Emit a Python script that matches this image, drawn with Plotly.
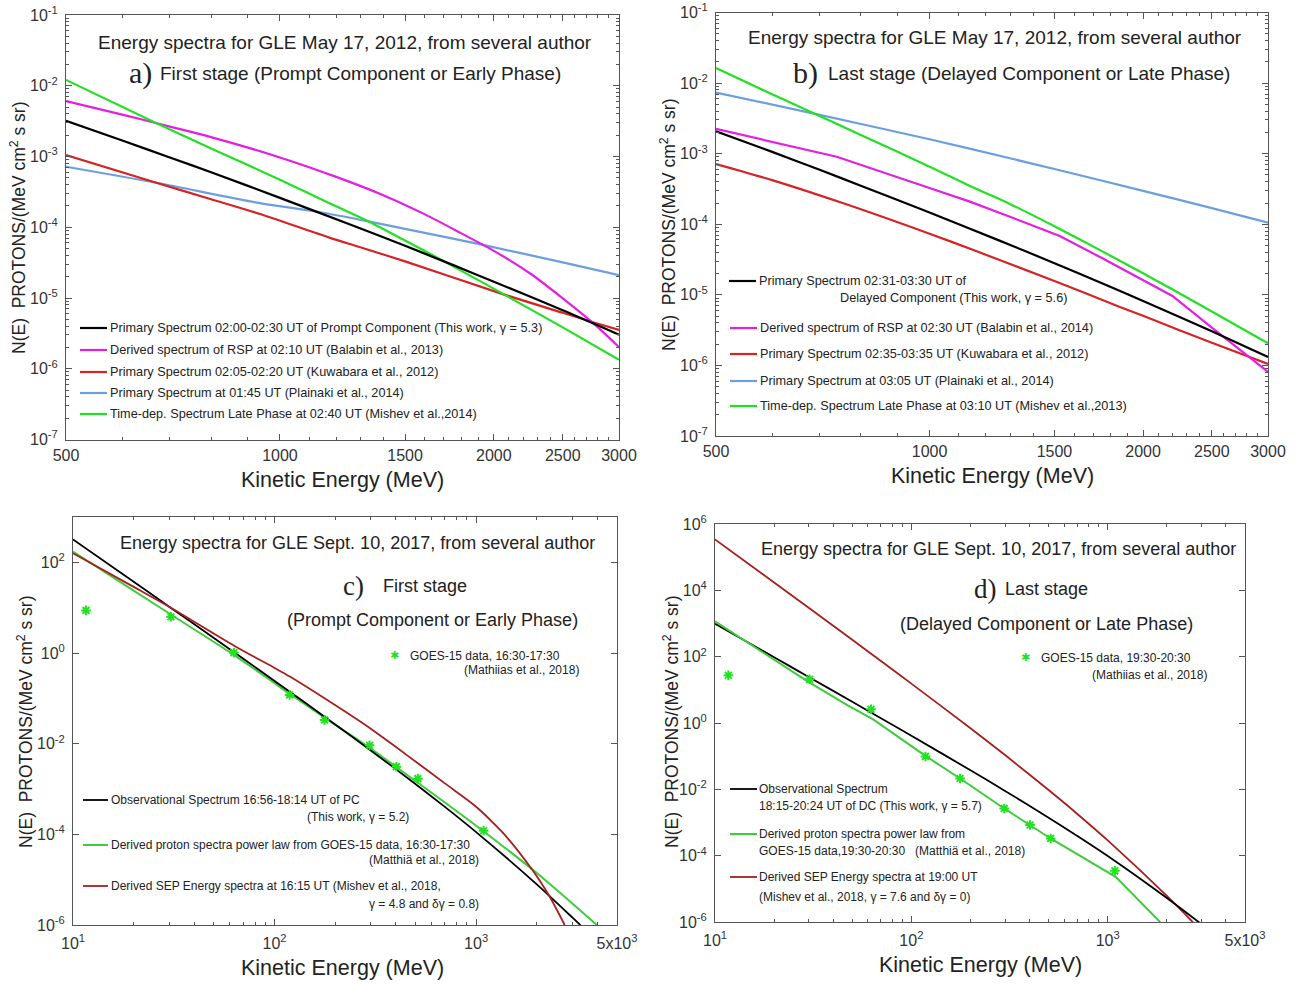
import plotly.graph_objects as go

W, H = 1301, 984
SANS = "Liberation Sans, Arial, sans-serif"
NARROW = "Liberation Sans, Arial, sans-serif"
SERIF = "Liberation Serif, Times New Roman, serif"

# ---------------- data: panel a (GLE May 17 2012, first stage) ----------------
E_a_black = [500, 600, 700, 800, 1000, 1250, 1500, 1750, 2000, 2500, 3000]
N_a_black = [3.2e-3, 1.68e-3, 9.7e-4, 6.0e-4, 2.6e-4, 1.11e-4, 5.47e-5, 2.94e-5, 1.70e-5, 6.7e-6, 3.03e-6]
E_a_mag = [500, 600, 700, 800, 1000, 1200, 1400, 1600, 1800, 2000, 2250, 2500, 2750, 3000]
N_a_mag = [6.07e-3, 3.91e-3, 2.65e-3, 1.88e-3, 9.7e-4, 5.15e-4, 2.82e-4, 1.52e-4, 8.2e-5, 4.64e-5, 2.22e-5, 9.9e-6, 4.55e-6, 2.02e-6]
E_a_red = [500, 670, 800, 937, 1174, 1294, 1500, 2034, 2500, 2780, 3000]
N_a_red = [1.05e-3, 4.25e-4, 2.49e-4, 1.54e-4, 7.14e-5, 5.26e-5, 3.29e-5, 1.18e-5, 6.18e-6, 4.44e-6, 3.53e-6]
E_a_blue = [500, 670, 937, 1125, 1300, 1500, 1939, 2500, 3000]
N_a_blue = [7.17e-4, 4.25e-4, 2.19e-4, 1.67e-4, 1.27e-4, 9.5e-5, 5.58e-5, 3.19e-5, 2.11e-5]
E_a_green = [500, 667, 800, 1000, 1174, 1329, 1500, 1675, 2034, 2500, 3000]
N_a_green = [1.21e-2, 3.03e-3, 1.30e-3, 4.7e-4, 2.19e-4, 1.23e-4, 6.5e-5, 3.6e-5, 1.23e-5, 3.84e-6, 1.34e-6]

# ---------------- data: panel b (GLE May 17 2012, last stage) ----------------
E_b_black = [500, 600, 700, 800, 1000, 1250, 1500, 1750, 2000, 2500, 3000]
N_b_black = [2.08e-3, 1.06e-3, 5.9e-4, 3.52e-4, 1.47e-4, 5.96e-5, 2.81e-5, 1.46e-5, 8.2e-6, 3.04e-6, 1.32e-6]
E_b_mag = [500, 600, 740, 1000, 1140, 1298, 1526, 1750, 2023, 2200, 2500, 2650, 3000]
N_b_mag = [2.24e-3, 1.47e-3, 9.05e-4, 3.27e-4, 2.09e-4, 1.275e-4, 6.8e-5, 3.32e-5, 1.535e-5, 9.63e-6, 3.44e-6, 2.16e-6, 8.1e-7]
E_b_red = [500, 600, 756, 1000, 1153, 1500, 1855, 2000, 2500, 3000]
N_b_red = [7.14e-4, 4.22e-4, 1.98e-4, 7.34e-5, 4.31e-5, 1.57e-5, 6.74e-6, 5.04e-6, 2.09e-6, 1.05e-6]
E_b_blue = [500, 690, 1000, 1298, 1500, 2000, 2500, 3000]
N_b_blue = [7.33e-3, 3.66e-3, 1.6e-3, 8.6e-4, 6.06e-4, 2.97e-4, 1.69e-4, 1.05e-4]
E_b_green = [500, 600, 690, 800, 1000, 1140, 1298, 1500, 1750, 2000, 2182, 2500, 3000]
N_b_green = [1.63e-2, 6.94e-3, 3.66e-3, 1.84e-3, 6.55e-4, 3.49e-4, 1.94e-4, 9.35e-5, 4.16e-5, 2.02e-5, 1.25e-5, 5.8e-6, 2.06e-6]

# ---------------- data: panel c (GLE Sept 10 2017, first stage) ----------------
E_c_goes = [11.6, 30.6, 62.8, 118.8, 177, 296, 402, 514, 1089]
N_c_goes = [8.7, 6.3, 1.02, 0.119, 0.0333, 9.2e-3, 3.1e-3, 1.69e-3, 1.2e-4]
E_c_black = [10, 20, 30, 50, 70, 100, 200, 300, 500, 700, 1000, 2000, 3000, 3300]
N_c_black = [321, 37.3, 10.5, 2.14, 0.745, 0.242, 2.66e-2, 7.1e-3, 1.29e-3, 4.03e-4, 1.12e-4, 7.9e-6, 1.47e-6, 9.8e-7]
E_c_green = [10, 20, 31, 63, 100, 119, 200, 300, 500, 1000, 2000, 3970]
N_c_green = [172, 23.8, 6.8, 0.9, 0.216, 0.125, 0.026, 7.8e-3, 1.5e-3, 1.55e-4, 1.4e-5, 1.0e-6]
E_c_red = [10, 20, 30, 63, 100, 119, 177, 300, 402, 514, 700, 1000, 1327, 1500, 1840, 2000, 2350, 2750]
N_c_red = [158, 28.8, 10.5, 1.45, 0.468, 0.302, 0.1, 0.0214, 8.3e-3, 3.7e-3, 1.33e-3, 4.07e-4, 1.2e-4, 6.46e-5, 2.0e-5, 1.19e-5, 3.8e-6, 1.0e-6]

# ---------------- data: panel d (GLE Sept 10 2017, last stage) ----------------
E_d_goes = [11.7, 30.3, 62.3, 118, 177, 297, 402, 512, 1087]
N_d_goes = [27.5, 20.8, 2.6, 0.098, 0.0212, 2.65e-3, 8.4e-4, 3.3e-4, 3.5e-5]
E_d_black = [10, 20, 30, 50, 70, 100, 200, 300, 500, 700, 1000, 2000, 3000]
N_d_black = [986, 96, 24.5, 4.37, 1.39, 0.412, 0.0376, 8.97e-3, 1.4e-3, 3.94e-4, 9.8e-5, 5.3e-6, 8.6e-7]
E_d_green = [10, 29.9, 47.4, 63.6, 118, 177, 297, 402, 512, 1096, 1849]
N_d_green = [1160, 17.3, 3.4, 1.3, 0.102, 0.0212, 2.65e-3, 8.4e-4, 3.3e-4, 2.3e-5, 1.0e-6]
E_d_red = [10, 20, 30, 50, 70, 100, 200, 300, 500, 700, 1000, 2000, 2750]
N_d_red = [3.44e5, 1.73e4, 2980, 323, 74, 15.4, 0.695, 0.108, 9.5e-3, 1.81e-3, 2.88e-4, 6.1e-6, 9.1e-7]

# tick labels
ab_xticks = [500, 1000, 1500, 2000, 2500, 3000]
ab_yexp = [-1, -2, -3, -4, -5, -6, -7]
cd_xticks = [10, 100, 1000, 5000]
cd_xtext = ["10<sup>1</sup>", "10<sup>2</sup>", "10<sup>3</sup>", "5x10<sup>3</sup>"]
c_yexp = [2, 0, -2, -4, -6]
d_yexp = [6, 4, 2, 0, -2, -4, -6]

# colours
BLACK = "#000000"
MAG = "#e41fe4"
RED = "#d42424"
BLUE = "#6c9ee0"
GREEN = "#22e022"
GREEN2 = "#3ccc3c"
DRED = "#a4201e"

fig = go.Figure()

def line(E, N, color, ax, width=2.2, shape="spline"):
    fig.add_trace(go.Scatter(x=E, y=N, mode="lines", xaxis="x" + ax, yaxis="y" + ax,
                             line=dict(color=color, width=width, shape=shape, smoothing=0.8),
                             showlegend=False, hoverinfo="skip"))

def pts(E, N, color, ax):
    fig.add_trace(go.Scatter(x=E, y=N, mode="markers", xaxis="x" + ax, yaxis="y" + ax,
                             marker=dict(symbol="asterisk-open", size=8, color=color,
                                         line=dict(color=color, width=2.0)),
                             showlegend=False, hoverinfo="skip"))

# panel a
line(E_a_blue, N_a_blue, BLUE, "")
line(E_a_red, N_a_red, RED, "")
line(E_a_mag, N_a_mag, MAG, "")
line(E_a_green, N_a_green, GREEN, "")
line(E_a_black, N_a_black, BLACK, "")
# panel b
line(E_b_blue, N_b_blue, BLUE, "2")
line(E_b_red, N_b_red, RED, "2")
line(E_b_mag, N_b_mag, MAG, "2", shape="linear")
line(E_b_green, N_b_green, GREEN, "2")
line(E_b_black, N_b_black, BLACK, "2")
# panel c
line(E_c_green, N_c_green, GREEN2, "3", width=2.0)
line(E_c_black, N_c_black, BLACK, "3", width=1.8)
line(E_c_red, N_c_red, DRED, "3", width=1.8)
pts(E_c_goes, N_c_goes, GREEN, "3")
# panel d
line(E_d_red, N_d_red, DRED, "4", width=1.8)
line(E_d_black, N_d_black, BLACK, "4", width=1.8)
line(E_d_green, N_d_green, GREEN2, "4", width=2.0, shape="linear")
pts(E_d_goes, N_d_goes, GREEN, "4")

def PX(x):
    return x / W

def PY(y):
    return 1 - y / H

def dom(x0, x1, y0, y1):
    return [PX(x0), PX(x1)], [PY(y1), PY(y0)]

TICKFONT = dict(family=SANS, size=16, color="#333")
AXLINE = dict(showline=True, linecolor="#555", linewidth=1, mirror="ticks", ticks="inside",
              tickcolor="#555", showgrid=False, zeroline=False, tickfont=TICKFONT,
              automargin=False, ticklabeloverflow="allow")

def exptext(e):
    return "10<sup>%d</sup>" % e

# panel geometry (window pixels)
geo = {
    "": (66, 619, 15, 439.5),
    "2": (716, 1268, 12.5, 436),
    "3": (73, 617, 517, 925),
    "4": (715, 1245, 524, 922),
}
layout_axes = {}
for ax, (x0, x1, y0, y1) in geo.items():
    xd, yd = dom(x0, x1, y0, y1)
    key = ax if ax else ""
    ya = dict(AXLINE, type="log", domain=yd, anchor="x" + key, ticklen=6, ticklabelstandoff=4)
    if ax in ("", "2"):
        xa = dict(AXLINE, type="log", domain=xd, anchor="y" + key, ticklen=6, ticklabelstandoff=1)
        xa.update(range=[2.69897, 3.47712], tickmode="array", tickvals=ab_xticks,
                  ticktext=[str(v) for v in ab_xticks],
                  minor=dict(ticks="inside", ticklen=3, dtick="L100", tickcolor="#555", showgrid=False))
        ya.update(range=[-7, -1], tickmode="array", tickvals=[10.0 ** e for e in ab_yexp],
                  ticktext=[exptext(e) for e in ab_yexp],
                  minor=dict(ticks="inside", ticklen=3, dtick="D1", tickcolor="#555", showgrid=False))
    else:
        xa = dict(AXLINE, type="log", domain=xd, anchor="y" + key, ticklen=6, ticklabelstandoff=4)
        yexp = c_yexp if ax == "3" else d_yexp
        xa.update(range=[1, 3.69897], tickmode="array", tickvals=cd_xticks, ticktext=cd_xtext,
                  minor=dict(ticks="inside", ticklen=3, dtick="D1", tickcolor="#555", showgrid=False))
        ya.update(range=[-6, 3] if ax == "3" else [-6, 6], tickmode="array",
                  tickvals=[10.0 ** e for e in yexp], ticktext=[exptext(e) for e in yexp])
    layout_axes["xaxis" + key] = xa
    layout_axes["yaxis" + key] = ya

annotations = []
shapes = []

def ann(text, x, y, size, xanchor="center", family=SANS, angle=0, color="#222"):
    annotations.append(dict(text=text, x=PX(x), y=PY(y), xref="paper", yref="paper",
                            showarrow=False, xanchor=xanchor, yanchor="middle", textangle=angle,
                            font=dict(size=size, family=family, color=color)))

def legline(x0, x1, y, color, width=2.2):
    shapes.append(dict(type="line", xref="paper", yref="paper", x0=PX(x0), x1=PX(x1),
                       y0=PY(y), y1=PY(y), line=dict(color=color, width=width)))

YT = "N(E)\u00a0\u00a0PROTONS/(MeV cm<sup>2</sup> s sr)"
LF = 12.7
LF2 = 12.0
TF1 = 19
TF2 = 18
XT = 21.5
YTF = 17.5

# ---- panel a text
ann("Energy spectra for GLE May 17, 2012, from several author", 345, 42, TF1)
ann("a)", 140, 73, 30, family=SERIF)
ann("First stage (Prompt Component or Early Phase)", 158, 73, TF1, xanchor="left")
ann("Kinetic Energy (MeV)", 343, 480, XT)
ann(YT, 18, 228, YTF, angle=-90)
leg_a = [("Primary Spectrum 02:00-02:30 UT of Prompt Component (This work, \u03b3 = 5.3)", BLACK, 328),
         ("Derived spectrum of RSP at 02:10 UT (Balabin et al., 2013)", MAG, 350),
         ("Primary Spectrum 02:05-02:20 UT (Kuwabara et al., 2012)", RED, 372),
         ("Primary Spectrum at 01:45 UT (Plainaki et al., 2014)", BLUE, 393),
         ("Time-dep. Spectrum Late Phase at 02:40 UT (Mishev et al.,2014)", GREEN, 414)]
for t, c, y in leg_a:
    legline(80, 107, y, c)
    ann(t, 108, y, LF, xanchor="left", family=NARROW)

# ---- panel b text
ann("Energy spectra for GLE May 17, 2012, from several author", 995, 38, TF1)
ann("b)", 806, 73, 30, family=SERIF)
ann("Last stage (Delayed Component or Late Phase)", 826, 73, TF1, xanchor="left")
ann("Kinetic Energy (MeV)", 992, 476, XT)
ann(YT, 668, 225, YTF, angle=-90)
legline(729, 756, 281, BLACK)
ann("Primary Spectrum 02:31-03:30 UT of", 757, 281, LF, xanchor="left", family=NARROW)
ann("Delayed Component (This work, \u03b3 = 5.6)", 838, 298, LF, xanchor="left", family=NARROW)
leg_b = [("Derived spectrum of RSP at 02:30 UT (Balabin et al., 2014)", MAG, 328),
         ("Primary Spectrum 02:35-03:35 UT (Kuwabara et al., 2012)", RED, 354),
         ("Primary Spectrum at 03:05 UT (Plainaki et al., 2014)", BLUE, 381),
         ("Time-dep. Spectrum Late Phase at 03:10 UT (Mishev et al.,2013)", GREEN, 406)]
for t, c, y in leg_b:
    legline(730, 757, y, c)
    ann(t, 758, y, LF, xanchor="left", family=NARROW)

# ---- panel c text
ann("Energy spectra for GLE Sept. 10, 2017, from several author", 357, 543, TF2)
ann("c)", 353, 586, 27, family=SERIF)
ann("First stage", 381, 586, TF2, xanchor="left")
ann("(Prompt Component or Early Phase)", 432, 620, TF2)
ann("\u2731", 394, 655, 11, family="DejaVu Sans", color=GREEN)
ann("GOES-15 data, 16:30-17:30", 408, 656, LF2, xanchor="left", family=NARROW)
ann("(Mathiias et al., 2018)", 581, 670, LF2, xanchor="right", family=NARROW)
ann("Kinetic Energy (MeV)", 343, 968, XT)
ann(YT, 25, 722, YTF, angle=-90)
legline(83, 108, 800, BLACK, 1.8)
ann("Observational Spectrum 16:56-18:14 UT of PC", 109, 800, LF2, xanchor="left", family=NARROW)
ann("(This work, \u03b3 = 5.2)", 411, 817, LF2, xanchor="right", family=NARROW)
legline(83, 108, 845, GREEN2, 2.0)
ann("Derived proton spectra power law from GOES-15 data, 16:30-17:30", 109, 845, LF2, xanchor="left", family=NARROW)
ann("(Matthi\u00e4 et al., 2018)", 481, 860, LF2, xanchor="right", family=NARROW)
legline(83, 108, 886, DRED, 1.8)
ann("Derived SEP Energy spectra at 16:15 UT (Mishev et al., 2018,", 109, 886, LF2, xanchor="left", family=NARROW)
ann("\u03b3 = 4.8 and \u03b4\u03b3 = 0.8)", 481, 904, LF2, xanchor="right", family=NARROW)

# ---- panel d text
ann("Energy spectra for GLE Sept. 10, 2017, from several author", 998, 549, TF2)
ann("d)", 985, 589, 27, family=SERIF)
ann("Last stage", 1003, 589, TF2, xanchor="left")
ann("(Delayed Component or Late Phase)", 1046, 624, TF2)
ann("\u2731", 1025, 657, 11, family="DejaVu Sans", color=GREEN)
ann("GOES-15 data, 19:30-20:30", 1039, 658, LF2, xanchor="left", family=NARROW)
ann("(Mathiias et al., 2018)", 1209, 675, LF2, xanchor="right", family=NARROW)
ann("Kinetic Energy (MeV)", 980, 965, XT)
ann(YT, 671, 722, YTF, angle=-90)
legline(730, 757, 789, BLACK, 1.8)
ann("Observational Spectrum", 757, 789, LF2, xanchor="left", family=NARROW)
ann("18:15-20:24 UT of DC (This work, \u03b3 = 5.7)", 757, 806, LF2, xanchor="left", family=NARROW)
legline(730, 757, 834, GREEN2, 2.0)
ann("Derived proton spectra power law from", 757, 834, LF2, xanchor="left", family=NARROW)
ann("GOES-15 data,19:30-20:30\u00a0\u00a0\u00a0(Matthi\u00e4 et al., 2018)", 757, 851, LF2, xanchor="left", family=NARROW)
legline(730, 757, 877, DRED, 1.8)
ann("Derived SEP Energy spectra at 19:00 UT", 757, 877, LF2, xanchor="left", family=NARROW)
ann("(Mishev et al., 2018, \u03b3 = 7.6 and \u03b4\u03b3 = 0)", 757, 897, LF2, xanchor="left", family=NARROW)

fig.update_layout(width=W, height=H, autosize=False,
                  margin=dict(l=0, r=0, t=0, b=0, pad=0, autoexpand=False),
                  paper_bgcolor="white", plot_bgcolor="white", showlegend=False,
                  annotations=annotations, shapes=shapes, **layout_axes)

# remove the browser's default 8 px page margin so the figure fills the window exactly
fig.write_html("out.html", config={"displayModeBar": False},
               post_script="document.body.style.margin='0px';")
